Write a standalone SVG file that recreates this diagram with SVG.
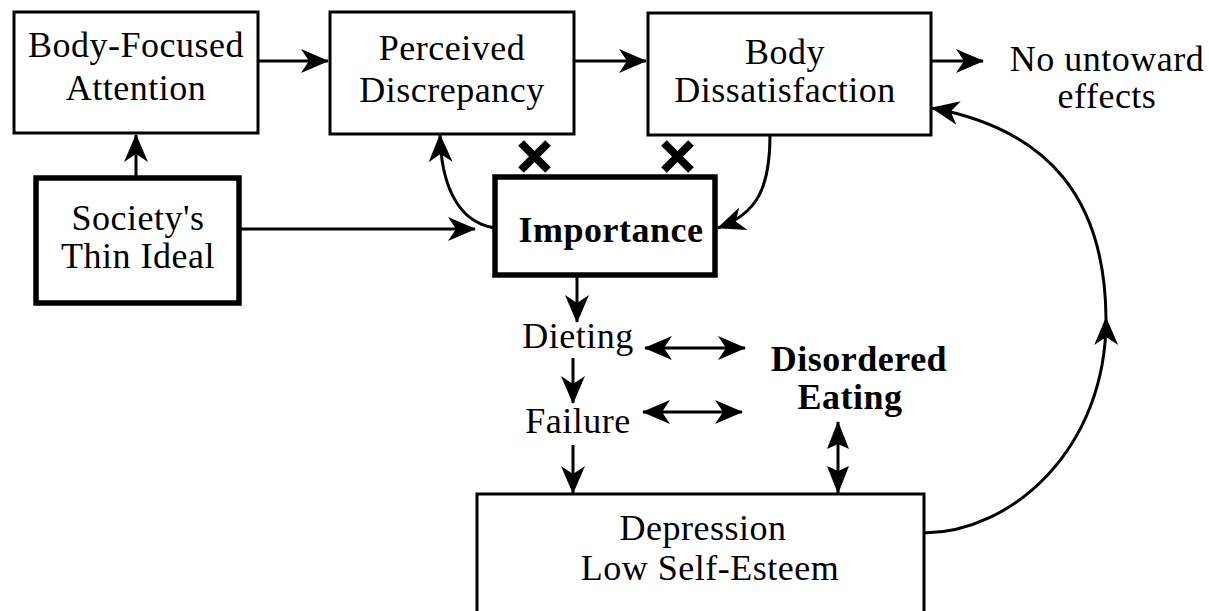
<svg xmlns="http://www.w3.org/2000/svg" width="1209" height="611" viewBox="0 0 1209 611">
<style>
.box{fill:#fff;stroke:#000;stroke-width:3}
.thick{fill:#fff;stroke:#000;stroke-width:5.5}
.t{font-family:"Liberation Serif","Times New Roman",serif;font-size:36px;fill:#000;text-anchor:middle;letter-spacing:0.5px}
.b{font-weight:bold}
.ln{fill:none;stroke:#000;stroke-width:3}
.x{stroke:#000;stroke-width:8;stroke-linecap:butt}
</style>
<defs>
<marker id="ah" markerUnits="userSpaceOnUse" viewBox="-32 -15 34 30" refX="0" refY="0" markerWidth="34" markerHeight="30" orient="auto-start-reverse">
<path d="M1,0 L-27,-12 L-19,0 L-27,12 Z" fill="#000"/>
</marker>
<marker id="big" markerUnits="userSpaceOnUse" viewBox="-32 -15 34 30" refX="0" refY="0" markerWidth="34" markerHeight="30" orient="auto-start-reverse">
<path d="M1,0 L-27,-11 L-22,0 L-27,11 Z" fill="#000"/>
</marker>
</defs>
<rect width="1209" height="611" fill="#fff"/>

<g id="connectors">
<line class="ln" x1="258" y1="61" x2="328" y2="61" marker-end="url(#ah)"/>
<line class="ln" x1="574" y1="61" x2="646" y2="61" marker-end="url(#ah)"/>
<line class="ln" x1="931" y1="61" x2="983" y2="61" marker-end="url(#ah)"/>
<line class="ln" x1="136" y1="178" x2="136" y2="135" marker-end="url(#ah)"/>
<line class="ln" x1="239" y1="229" x2="475" y2="229" marker-end="url(#ah)"/>
<path class="ln" d="M495,228 C455,222 441,180 440,135" marker-end="url(#ah)"/>
<path class="ln" d="M770,135 C770,190 756,214 718,228" marker-end="url(#ah)"/>
<line class="ln" x1="577" y1="275" x2="577" y2="322" marker-end="url(#ah)"/>
<line class="ln" x1="573" y1="358" x2="573" y2="403" marker-end="url(#ah)"/>
<line class="ln" x1="573" y1="445" x2="573" y2="493" marker-end="url(#ah)"/>
<line class="ln" x1="645" y1="348" x2="745" y2="348" marker-start="url(#ah)" marker-end="url(#ah)"/>
<line class="ln" x1="643" y1="412" x2="742" y2="412" marker-start="url(#ah)" marker-end="url(#ah)"/>
<line class="ln" x1="838" y1="422" x2="838" y2="493" marker-start="url(#big)" marker-end="url(#big)"/>
<path class="ln" d="M924,533 C1010,533 1107,450 1106,318 C1105,200 1050,130 932,108" marker-mid="url(#ah)" marker-end="url(#ah)"/>
<line class="x" x1="521" y1="143" x2="548" y2="170"/>
<line class="x" x1="548" y1="143" x2="521" y2="170"/>
<line class="x" x1="664" y1="143" x2="691" y2="170"/>
<line class="x" x1="691" y1="143" x2="664" y2="170"/>
</g>

<g id="body-focused">
<rect class="box" x="14" y="12" width="244" height="121"/>
<text class="t" x="136" y="57">Body-Focused</text>
<text class="t" x="136" y="100">Attention</text>
</g>
<g id="perceived">
<rect class="box" x="330" y="12" width="244" height="122"/>
<text class="t" x="452" y="60">Perceived</text>
<text class="t" x="452" y="102">Discrepancy</text>
</g>
<g id="dissatisfaction">
<rect class="box" x="648" y="13" width="283" height="122"/>
<text class="t" x="785" y="64">Body</text>
<text class="t" x="785" y="102">Dissatisfaction</text>
</g>
<g id="no-untoward">
<text class="t" x="1107" y="71">No untoward</text>
<text class="t" x="1107" y="108">effects</text>
</g>
<g id="thin-ideal">
<rect class="thick" x="36" y="178" width="203" height="125"/>
<text class="t" x="138" y="230">Society's</text>
<text class="t" x="138" y="268">Thin Ideal</text>
</g>
<g id="importance">
<rect class="thick" x="495" y="177" width="220" height="98"/>
<text class="t b" x="611" y="242">Importance</text>
</g>
<g id="dieting">
<text class="t" x="578" y="348">Dieting</text>
</g>
<g id="failure">
<text class="t" x="578" y="433">Failure</text>
</g>
<g id="disordered">
<text class="t b" x="859" y="371">Disordered</text>
<text class="t b" x="850" y="409">Eating</text>
</g>
<g id="depression">
<rect class="box" x="477" y="494" width="447" height="150"/>
<text class="t" x="703" y="540">Depression</text>
<text class="t" x="710" y="580">Low Self-Esteem</text>
</g>
</svg>
